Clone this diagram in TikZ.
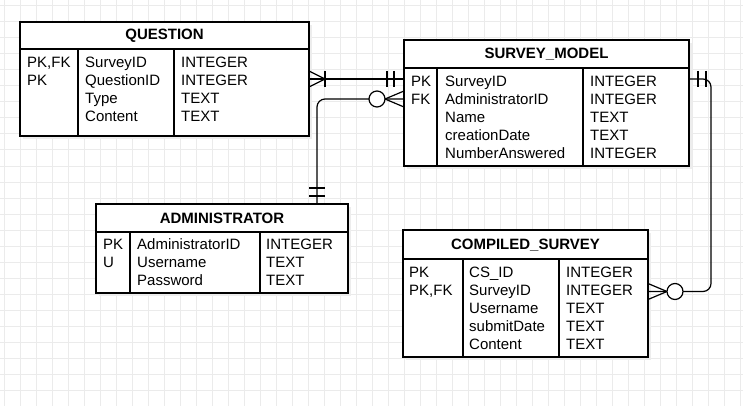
\documentclass[tikz,border=0pt]{standalone}
\usepackage{fontspec}
\setmainfont{Liberation Sans}
\usetikzlibrary{calc, positioning, shadows}
\definecolor{gridgray}{HTML}{EBEBEB}
\definecolor{shadowgray}{HTML}{EDEDED}
\tikzstyle{gridline} = [draw=gridgray, line width=1pt]
\tikzstyle{table} = [rectangle, draw, line width=1.2pt, fill=white, anchor=north west, inner sep=0pt, outer sep=0pt, drop shadow={shadow xshift=3pt, shadow yshift=-3pt, fill=shadowgray, opacity=1}]
\tikzstyle{title} = [font=\fontsize{15}{18}\selectfont\bfseries, inner sep=0pt]
\tikzstyle{column} = [anchor=north west, align=left, inner sep=0pt, execute at begin node=\strut]
\tikzstyle{rule} = [draw, line width=1.2pt]
\tikzstyle{line} = [draw, line width=1.2pt, rounded corners=8pt]
\tikzstyle{ending} = [draw, line width=1.2pt]

\begin{document}
\begin{tikzpicture}[x=1pt, y=-1pt, font=\fontsize{15}{18}\selectfont]
\useasboundingbox (0,0) rectangle (743,406);
% background grid
\foreach \gx in {4,20,...,740} \draw[gridline] (\gx,0) -- (\gx,406);
\foreach \gy in {6,22,...,406} \draw[gridline] (0,\gy) -- (743,\gy);

% QUESTION
\node[table, minimum width=289, minimum height=114] (question) at (20,22) {};
\node[title] (questiontitle) at ($(question.north)+(0,13.5)$) {QUESTION};
\draw[rule] ($(question.north west)+(0,27)$) -- ($(question.north east)+(0,27)$);
\draw[rule] ($(question.north west)+(58,27)$) -- ($(question.south west)+(58,0)$);
\draw[rule] ($(question.north west)+(154,27)$) -- ($(question.south west)+(154,0)$);
\node[column] (questionkeys) at ($(question.north west)+(7,35)$) {PK,FK\\PK};
\node[column] (questionnames) at ($(question.north west)+(65,35)$) {SurveyID\\QuestionID\\Type\\Content};
\node[column] (questiontypes) at ($(question.north west)+(161,35)$) {INTEGER\\INTEGER\\TEXT\\TEXT};

% SURVEY_MODEL
\node[table, minimum width=285, minimum height=126] (survey) at (404,40) {};
\node[title] (surveytitle) at ($(survey.north)+(0,14)$) {SURVEY\_MODEL};
\draw[rule] ($(survey.north west)+(0,28)$) -- ($(survey.north east)+(0,28)$);
\draw[rule] ($(survey.north west)+(33,28)$) -- ($(survey.south west)+(33,0)$);
\draw[rule] ($(survey.north west)+(179,28)$) -- ($(survey.south west)+(179,0)$);
\node[column] (surveykeys) at ($(survey.north west)+(7,35.5)$) {PK\\FK};
\node[column] (surveynames) at ($(survey.north west)+(41,35.5)$) {SurveyID\\AdministratorID\\Name\\creationDate\\NumberAnswered};
\node[column] (surveytypes) at ($(survey.north west)+(186,35.5)$) {INTEGER\\INTEGER\\TEXT\\TEXT\\INTEGER};

% ADMINISTRATOR
\node[table, minimum width=252, minimum height=89] (admin) at (96,204) {};
\node[title] (admintitle) at ($(admin.north)+(0,14)$) {ADMINISTRATOR};
\draw[rule] ($(admin.north west)+(0,28)$) -- ($(admin.north east)+(0,28)$);
\draw[rule] ($(admin.north west)+(34,28)$) -- ($(admin.south west)+(34,0)$);
\draw[rule] ($(admin.north west)+(164,28)$) -- ($(admin.south west)+(164,0)$);
\node[column] (adminkeys) at ($(admin.north west)+(7,34.5)$) {PK\\U};
\node[column] (adminnames) at ($(admin.north west)+(41,34.5)$) {AdministratorID\\Username\\Password};
\node[column] (admintypes) at ($(admin.north west)+(170,34.5)$) {INTEGER\\TEXT\\TEXT};

% COMPILED_SURVEY
\node[table, minimum width=245, minimum height=127] (compiled) at (403,230) {};
\node[title] (compiledtitle) at ($(compiled.north)+(0,15)$) {COMPILED\_SURVEY};
\draw[rule] ($(compiled.north west)+(0,29)$) -- ($(compiled.north east)+(0,29)$);
\draw[rule] ($(compiled.north west)+(60,29)$) -- ($(compiled.south west)+(60,0)$);
\draw[rule] ($(compiled.north west)+(156,29)$) -- ($(compiled.south west)+(156,0)$);
\node[column] (compiledkeys) at ($(compiled.north west)+(6,36.5)$) {PK\\PK,FK};
\node[column] (compilednames) at ($(compiled.north west)+(66,36.5)$) {CS\_ID\\SurveyID\\Username\\submitDate\\Content};
\node[column] (compiledtypes) at ($(compiled.north west)+(163,36.5)$) {INTEGER\\INTEGER\\TEXT\\TEXT\\TEXT};

% relations
\coordinate (qa) at (question.east);
\coordinate (sa) at (question.east -| survey.west);
\coordinate (ab) at ([xshift=95pt]admin.north);
\coordinate (sb) at ([yshift=4pt]survey.west);
\coordinate (sc) at ([yshift=24pt]survey.east);
\coordinate (cc) at ([yshift=2pt]compiled.east);
\path[line] (qa) -- (sa);
\path[line] (ab) |- (sb);
\path[line] (sc) -- ++(22,0) |- (cc);

% one or many / mandatory one
\draw[ending] ($(qa)+(0,-8)$) -- ($(qa)+(16,0)$) -- ($(qa)+(0,8)$);
\draw[ending] ($(qa)+(16,-8)$) -- ($(qa)+(16,8)$);
\draw[ending] ($(sa)+(-10,-8)$) -- ($(sa)+(-10,8)$);
\draw[ending] ($(sa)+(-17,-8)$) -- ($(sa)+(-17,8)$);
% mandatory one / zero or many
\draw[ending] ($(ab)+(-8,-8)$) -- ($(ab)+(8,-8)$);
\draw[ending] ($(ab)+(-8,-16)$) -- ($(ab)+(8,-16)$);
\draw[ending] ($(sb)+(0,-8)$) -- ($(sb)+(-19,0)$) -- ($(sb)+(0,8)$);
\draw[ending, fill=white] ($(sb)+(-27,0)$) circle (8pt);
% mandatory one / zero or many
\draw[ending] ($(sc)+(9,-8)$) -- ($(sc)+(9,8)$);
\draw[ending] ($(sc)+(17,-8)$) -- ($(sc)+(17,8)$);
\draw[ending] ($(cc)+(0,-8)$) -- ($(cc)+(19,0)$) -- ($(cc)+(0,8)$);
\draw[ending, fill=white] ($(cc)+(27,0)$) circle (8pt);
\end{tikzpicture}
\end{document}
